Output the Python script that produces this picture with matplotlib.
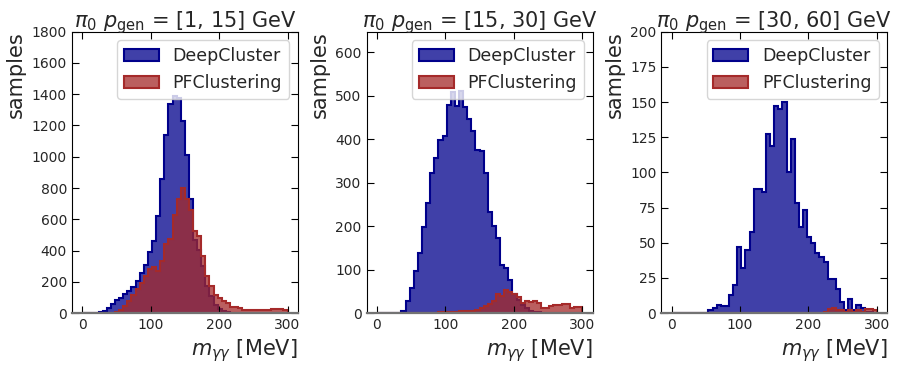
import numpy as np
import matplotlib
matplotlib.use("Agg")
import matplotlib.pyplot as plt

# 50 bins of 6 MeV between 0 and 300 MeV
edges = np.linspace(0, 300, 51)

titles = [r"$\pi_0\ p_\mathrm{gen}$ = [1, 15] GeV",
          r"$\pi_0\ p_\mathrm{gen}$ = [15, 30] GeV",
          r"$\pi_0\ p_\mathrm{gen}$ = [30, 60] GeV"]

deep_1_15 = [0, 0, 0, 2, 6, 17, 35, 60, 85, 100, 125, 140, 170, 205, 260, 305, 390, 460, 620, 860,
             1140, 1335, 1390, 1375, 1230, 1010, 728, 470, 405, 300, 175, 107, 50, 25, 12, 6, 3, 2, 1, 1,
             0, 0, 0, 0, 0, 0, 0, 0, 0, 0]
pf_1_15 = [0, 0, 0, 0, 0, 0, 0, 0, 5, 20, 45, 80, 115, 155, 195, 240, 285, 298, 268, 335,
           440, 475, 630, 730, 800, 730, 662, 523, 491, 363, 235, 171, 117, 96, 75, 64, 40, 38, 30, 22,
           22, 20, 20, 18, 18, 22, 26, 26, 24, 20]

deep_15_30 = [0, 0, 0, 0, 0, 0, 4, 27, 57, 96, 138, 198, 253, 322, 356, 397, 408, 479, 508, 477,
              510, 474, 446, 418, 375, 372, 322, 233, 201, 172, 111, 104, 77, 45, 30, 18, 12, 6, 3, 2,
              1, 1, 0, 0, 0, 0, 0, 0, 0, 0]
pf_15_30 = [0, 0, 0, 0, 0, 0, 0, 0, 0, 0, 0, 0, 0, 0, 1, 2, 2, 3, 3, 3,
            4, 4, 5, 6, 8, 13, 16, 22, 28, 44, 40, 54, 48, 44, 38, 24, 27, 26, 29, 24,
            13, 13, 16, 18, 18, 20, 21, 13, 15, 15]

deep_30_60 = [0, 0, 0, 0, 0, 0, 0, 0, 0, 2, 4, 6, 5, 5, 13, 20, 47, 32, 45, 58,
              88, 88, 86, 127, 119, 147, 145, 150, 100, 124, 78, 61, 73, 54, 50, 43, 40, 36, 24, 24,
              17, 8, 2, 10, 2, 6, 4, 1, 1, 0]
pf_30_60 = [0, 0, 0, 0, 0, 0, 0, 0, 0, 0, 0, 0, 0, 0, 0, 0, 0, 0, 0, 0,
            0, 0, 0, 0, 0, 0, 0, 0, 0, 0, 0, 0, 0, 0, 0, 0, 0, 1, 3, 4,
            2, 2, 1, 2, 1, 2, 1, 3, 3, 2]

deep_sets = [deep_1_15, deep_15_30, deep_30_60]
pf_sets = [pf_1_15, pf_15_30, pf_30_60]
y_limits = [(0, 1800), (0, 647), (0, 200)]
y_steps = [200, 100, 25]

blue = "darkblue"
red = "brown"

plt.rcParams["text.color"] = "0.15"
plt.rcParams["axes.labelcolor"] = "0.15"
plt.rcParams["xtick.labelcolor"] = "0.15"
plt.rcParams["ytick.labelcolor"] = "0.15"

fig, axes = plt.subplots(1, 3, figsize=(8.98, 3.68), dpi=100)
fig.subplots_adjust(left=0.080, right=0.988, bottom=0.149, top=0.914, wspace=0.304)

for ax, title, deep, pf, ylim, ystep in zip(axes, titles, deep_sets, pf_sets, y_limits, y_steps):
    ax.stairs(deep, edges, fill=True, facecolor=matplotlib.colors.to_rgba(blue, 0.75),
              edgecolor=blue, lw=1.5, label="DeepCluster")
    ax.stairs(pf, edges, fill=True, facecolor=matplotlib.colors.to_rgba(red, 0.75),
              edgecolor=red, lw=1.5, label="PFClustering")
    ax.set_xlim(-15, 315)
    ax.set_ylim(*ylim)
    ax.set_xticks([0, 100, 200, 300])
    ax.set_yticks(np.arange(0, ylim[1] + 1, ystep))
    ax.tick_params(direction="in", top=True, right=True, length=5, labelsize=10)
    ax.spines["bottom"].set_color("0.45")
    ax.spines["bottom"].set_linewidth(1.6)
    ax.set_title(title, fontsize=15, pad=3)
    ax.set_xlabel(r"$m_{\gamma\gamma}$ [MeV]", fontsize=15, loc="right")
    ax.set_ylabel("samples", fontsize=15, loc="top")
    ax.legend(loc="upper right", fontsize=12.5)

plt.savefig("out.png")
